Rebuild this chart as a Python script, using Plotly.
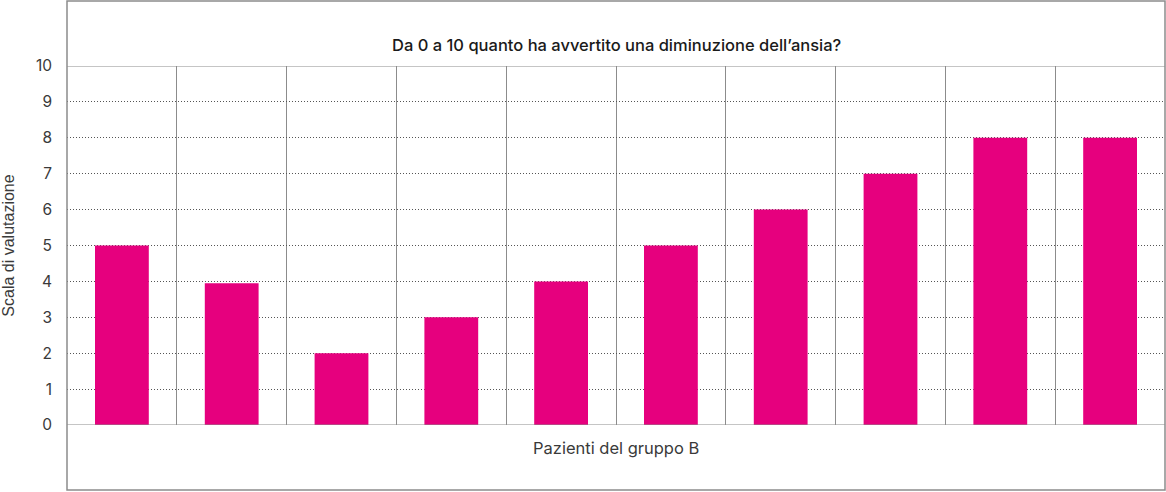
import plotly.graph_objects as go

# patients of group B, one bar each
patients = [f"Paziente {i}" for i in range(1, 11)]
scores = [5, 3.95, 2, 3, 4, 5, 6, 7, 8, 8]
y_ticks = list(range(0, 11))

title_text = "Da 0 a 10 quanto ha avvertito una diminuzione dell\u2019ansia?"
x_title = "Pazienti del gruppo B"
y_title = "Scala di valutazione"

font_family = "Inter, Roboto, sans-serif"
grid_color = "#8c8c8c"
text_color = "#3a3a3a"

W, H = 1166, 492
m_l, m_r, m_t, m_b = 67, 1, 66, 67
plot_h = H - m_t - m_b

fig = go.Figure()
fig.add_trace(
    go.Bar(
        x=list(range(len(patients))),
        y=scores,
        customdata=patients,
        marker=dict(color="#e6007e", line=dict(width=0)),
        width=0.49,
        hovertemplate="%{customdata}: %{y}<extra></extra>",
    )
)

# frame around the whole chart (title band + plot + x-title band)
fig.add_shape(
    type="rect", xref="paper", yref="paper",
    x0=0, x1=1, y0=-65 / plot_h, y1=1 + 65 / plot_h,
    line=dict(color=grid_color, width=1.5), layer="above",
)
# solid separators at 0 and 10
for yv in (0, 10):
    fig.add_shape(
        type="line", xref="paper", yref="y",
        x0=0, x1=1, y0=yv, y1=yv,
        line=dict(color=grid_color, width=1.2), layer="above",
    )

fig.update_layout(
    width=W,
    height=H,
    margin=dict(l=m_l, r=m_r, t=m_t, b=m_b),
    paper_bgcolor="white",
    plot_bgcolor="white",
    showlegend=False,
    font=dict(family=font_family, size=15.5, color=text_color),
    annotations=[
        dict(
            text=title_text, xref="paper", yref="paper",
            x=0.5, y=1 + 33 / plot_h, showarrow=False,
            font=dict(size=16.5, color="#1a1a1a", family=font_family, weight=500),
        ),
        dict(
            text=x_title, xref="paper", yref="paper",
            x=0.5, y=-35 / plot_h, showarrow=False,
            font=dict(size=16.5, color=text_color),
        ),
    ],
)
fig.update_xaxes(
    range=[-0.5, len(patients) - 0.5],
    showticklabels=False,
    showgrid=True,
    gridcolor=grid_color,
    gridwidth=1.2,
    tick0=0.5,
    dtick=1,
    zeroline=False,
    showline=False,
    ticks="",
    automargin=False,
)
fig.update_yaxes(
    range=[0, 10],
    tickvals=y_ticks,
    tickfont=dict(color=text_color, size=15.5, family=font_family),
    showgrid=True,
    gridcolor="#555555",
    gridwidth=1,
    griddash="1px,2px",
    zeroline=False,
    showline=False,
    ticks="",
    ticklabelstandoff=14,
    automargin=False,
    title=dict(
        text=y_title, standoff=21,
        font=dict(size=16, family="Liberation Sans, Arial, sans-serif", color=text_color),
    ),
)

# drop the default page margin so the chart sits at the window corner
fig.write_html(
    "out.html",
    config={"displayModeBar": False},
    post_script="document.body.style.margin='0';",
)
